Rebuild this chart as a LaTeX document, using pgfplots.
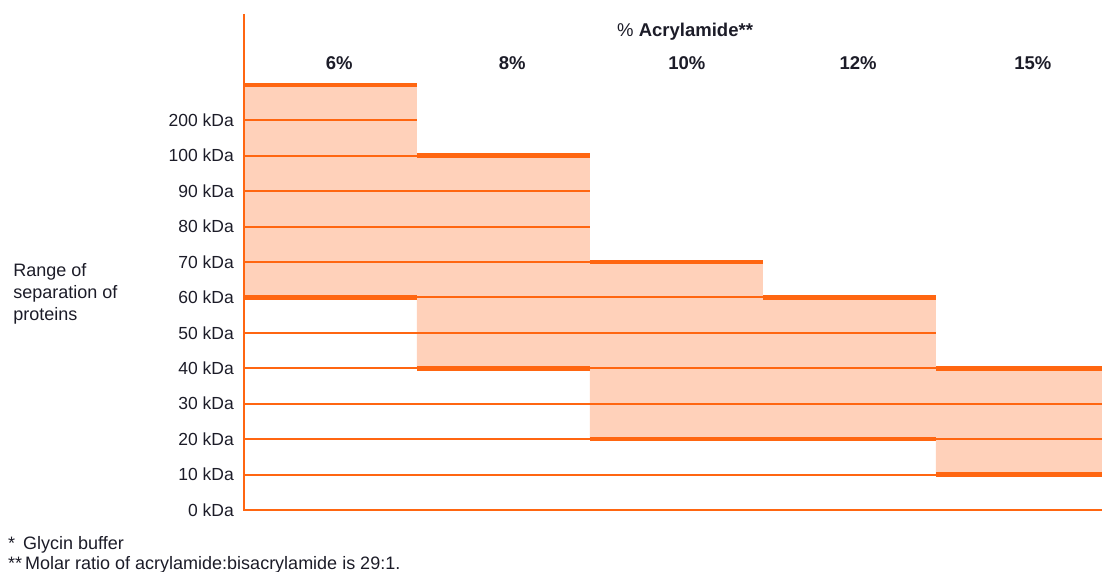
\documentclass[border=0pt]{standalone}
\usepackage{fontspec}
\setmainfont{Liberation Sans}
\usepackage{pgfplots}
\pgfplotsset{compat=1.18}
\definecolor{lineor}{RGB}{255,102,17}
\definecolor{fillor}{RGB}{255,209,186}
\definecolor{txt}{RGB}{28,28,40}
\begin{document}
\begin{tikzpicture}
\useasboundingbox (-244pt,-62pt) rectangle (858pt,510pt);
\begin{axis}[
  at={(0,0)}, anchor=south west,
  scale only axis, width=858pt, height=496pt,
  xmin=0, xmax=4.96, ymin=0, ymax=14,
  axis line style={draw=none},
  clip=false,
  major tick length=0pt,
  ytick={0,1,2,3,4,5,6,7,8,9,10,11},
  yticklabels={0 kDa,10 kDa,20 kDa,30 kDa,40 kDa,50 kDa,60 kDa,70 kDa,80 kDa,90 kDa,100 kDa,200 kDa},
  yticklabel style={font=\fontsize{17.5}{18}\selectfont, text=txt, anchor=east, inner sep=0pt, xshift=-10pt},
  xtick={0.55,1.55,2.56,3.55,4.56},
  xticklabels={6\%,8\%,10\%,12\%,15\%},
  xticklabel pos=upper,
  xticklabel style={font=\fontsize{18.5}{20}\bfseries, text=txt, anchor=center, inner sep=0pt, yshift=-49pt},
]
% bars (lower, upper) per column
\addplot[fill=fillor, draw=none] coordinates {(0,6) (1,6) (1,12) (0,12) (0,6)};
\addplot[fill=fillor, draw=none] coordinates {(1,4) (2,4) (2,10) (1,10) (1,4)};
\addplot[fill=fillor, draw=none] coordinates {(2,2) (3,2) (3,7) (2,7) (2,2)};
\addplot[fill=fillor, draw=none] coordinates {(3,2) (4,2) (4,6) (3,6) (3,2)};
\addplot[fill=fillor, draw=none] coordinates {(4,1) (4.96,1) (4.96,4) (4,4) (4,1)};
% thin level lines
\addplot[lineor, line width=2pt] coordinates {(0,1) (4.96,1)};
\addplot[lineor, line width=2pt] coordinates {(0,2) (4.96,2)};
\addplot[lineor, line width=2pt] coordinates {(0,3) (4.96,3)};
\addplot[lineor, line width=2pt] coordinates {(0,4) (4.96,4)};
\addplot[lineor, line width=2pt] coordinates {(0,5) (4,5)};
\addplot[lineor, line width=2pt] coordinates {(0,6) (4,6)};
\addplot[lineor, line width=2pt] coordinates {(0,7) (3,7)};
\addplot[lineor, line width=2pt] coordinates {(0,8) (2,8)};
\addplot[lineor, line width=2pt] coordinates {(0,9) (2,9)};
\addplot[lineor, line width=2pt] coordinates {(0,10) (2,10)};
\addplot[lineor, line width=2pt] coordinates {(0,11) (1,11)};
% thick bar edges
\addplot[lineor, line width=4.5pt] coordinates {(0,12) (1,12)};
\addplot[lineor, line width=4.5pt] coordinates {(0,6) (1,6)};
\addplot[lineor, line width=4.5pt] coordinates {(1,10) (2,10)};
\addplot[lineor, line width=4.5pt] coordinates {(1,4) (2,4)};
\addplot[lineor, line width=4.5pt] coordinates {(2,7) (3,7)};
\addplot[lineor, line width=4.5pt] coordinates {(2,2) (3,2)};
\addplot[lineor, line width=4.5pt] coordinates {(3,6) (4,6)};
\addplot[lineor, line width=4.5pt] coordinates {(3,2) (4,2)};
\addplot[lineor, line width=4.5pt] coordinates {(4,4) (4.96,4)};
\addplot[lineor, line width=4.5pt] coordinates {(4,1) (4.96,1)};
% axis lines
\addplot[lineor, line width=2.5pt] coordinates {(0,14) (0,0) (4.96,0)};
% texts
\node[font=\fontsize{18.5}{20}\selectfont, text=txt] at (axis cs:2.55,13.5) {\% \textbf{Acrylamide**}};
\node[font=\fontsize{18}{22}\selectfont, text=txt, align=left, anchor=west, inner sep=0pt] at (axis cs:-1.335,6.1) {Range of\\separation of\\proteins};
\end{axis}
\node[font=\fontsize{18}{20}\selectfont, text=txt, align=left, anchor=north west, inner sep=0pt] at (-236pt,-26pt) {*\, Glycin buffer\\**\,Molar ratio of acrylamide:bisacrylamide is 29:1.};
\end{tikzpicture}
\end{document}
